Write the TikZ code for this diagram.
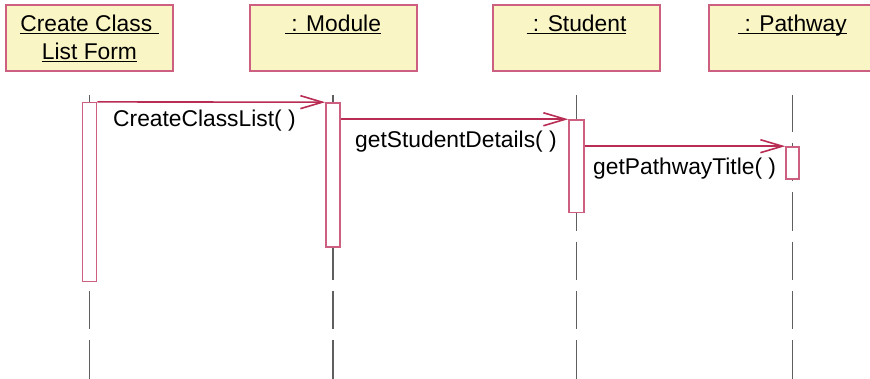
\documentclass[tikz,border=0pt]{standalone}
\usepackage{fontspec}
\setmainfont{Liberation Sans}
\usetikzlibrary{arrows.meta}
\definecolor{objfill}{RGB}{250,245,196}
\definecolor{objborder}{RGB}{205,95,128}
\definecolor{msgcol}{RGB}{185,45,85}
\definecolor{lifecol}{RGB}{95,95,95}
\newcommand\ulx[1]{\underline{\smash{#1}}}
\begin{document}
\begin{tikzpicture}[x=1pt,y=-1pt,
  objbox/.style={draw=objborder,fill=objfill,line width=2pt,minimum width=167pt,minimum height=66pt,inner sep=0pt},
  titletext/.style={anchor=base,inner sep=0pt,font=\fontsize{22.8}{28}\selectfont},
  msgtext/.style={anchor=base west,inner sep=0pt,font=\fontsize{22.8}{28}\selectfont},
  lifeline/.style={draw=lifecol,line width=1.8pt,dash pattern=on 38.5pt off 10.8pt,dash phase=1.3pt},
  act/.style={draw=objborder,fill=white,line width=1.6pt,minimum width=14pt,inner sep=0pt},
  msg/.style={draw=msgcol,line width=1.6pt,-{Straight Barb[length=22pt,width=13pt,line width=1.6pt]}}
]
\useasboundingbox (0,0) rectangle (870,379);
% object boxes
\node[objbox] (b1) at (89.5,38) {};
\node[objbox] (b2) at (333,38) {};
\node[objbox] (b3) at (576.5,38) {};
\node[objbox] (b4) at (792.5,38) {};
\node[titletext] (t1a) at (89.5,32) {\ulx{Create Class\ }};
\node[titletext] (t1b) at (89.5,60) {\ulx{List Form}};
\node[titletext] (t2) at (333,32) {\ulx{\ : Module}};
\node[titletext] (t3) at (576.5,32) {\ulx{\ : Student}};
\node[titletext] (t4) at (792.5,32) {\ulx{\ : Pathway}};
% lifelines
\coordinate (l1t) at (89.5,95);  \coordinate (l1b) at (89.5,379);
\coordinate (l2t) at (333,95);   \coordinate (l2b) at (333,379);
\coordinate (l3t) at (576.5,95); \coordinate (l3b) at (576.5,379);
\coordinate (l4t) at (792.5,95); \coordinate (l4b) at (792.5,379);
\draw[lifeline] (l1t) -- (l1b);
\draw[lifeline] (l2t) -- (l2b);
\draw[lifeline] (l3t) -- (l3b);
\draw[lifeline] (l4t) -- (l4b);
% activations
\node[act,minimum height=179pt] (a1) at (89.5,192.2) {};
\node[act,minimum height=144pt] (a2) at (333,175) {};
\node[act,minimum width=15pt,minimum height=92.5pt] (a3) at (576.5,166.3) {};
\node[act,minimum width=13pt,minimum height=32pt] (a4) at (792.5,163) {};
% messages
\draw[msg] (a1.north east) -- (a2.north west);
\draw[msg] (a2.north east |- a3.north) -- (a3.north west);
\draw[msg] (a3.north east |- a4.north) -- (a4.north west);
\node[msgtext] (m1) at (113,127) {CreateClassList( )};
\node[msgtext] (m2) at (355,148) {getStudentDetails( )};
\node[msgtext] (m3) at (593,175) {getPathwayTitle( )};
\end{tikzpicture}
\end{document}
